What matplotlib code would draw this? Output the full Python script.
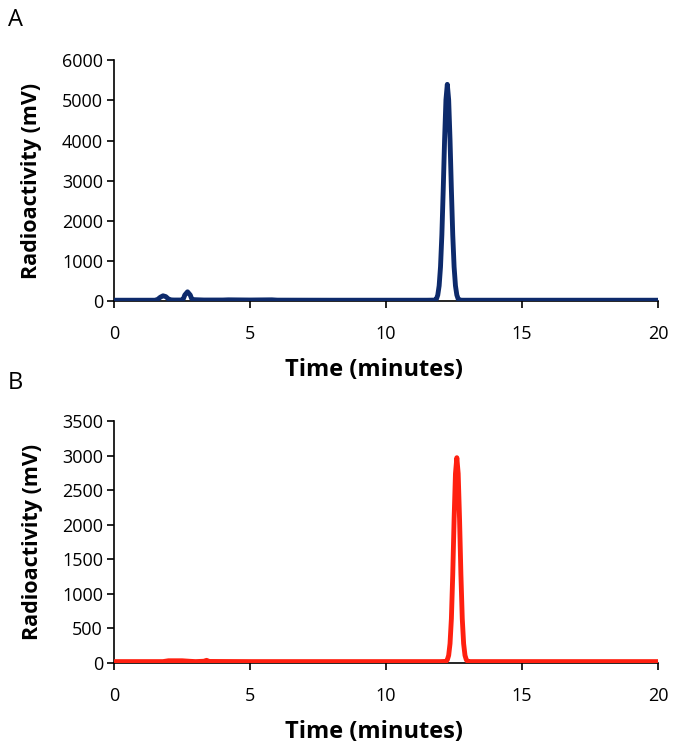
import numpy as np
import matplotlib.pyplot as plt

plt.rcParams['font.family'] = ['Open Sans', 'DejaVu Sans']

# panel A trace (time in minutes, radioactivity in mV)
time_a = [0.0, 1.5, 1.6, 1.7, 1.8, 1.9, 2.0, 2.1, 2.2, 2.5, 2.55, 2.6, 2.7, 2.8, 2.85, 2.9, 3.1, 3.3,
          4.0, 4.2, 4.5, 5.0, 5.8, 6.0, 8.0, 10.0, 11.5, 11.8, 11.85, 11.9, 11.95, 12.0,
          12.05, 12.1, 12.15, 12.2, 12.25, 12.3, 12.35, 12.4, 12.45, 12.5, 12.55, 12.6,
          12.65, 12.7, 12.75, 12.8, 13.0, 15.0, 20.0]
rad_a = [20, 20, 40, 95, 130, 110, 50, 28, 25, 25, 60, 150, 230, 150, 60, 35, 30, 25,
         25, 30, 28, 25, 30, 22, 20, 20, 20, 23, 50, 150, 380, 850,
         1650, 2775, 4017, 5015, 5400, 5015, 4017, 2775, 1650, 850, 380, 150,
         50, 28, 22, 20, 20, 20, 20]

# panel B trace
time_b = [0.0, 1.8, 2.0, 2.5, 2.8, 3.0, 3.3, 3.4, 3.5, 5.0, 8.0, 10.0, 12.0, 12.2,
          12.25, 12.3, 12.35, 12.4, 12.45, 12.5, 12.55, 12.6, 12.65, 12.7, 12.75,
          12.8, 12.85, 12.9, 12.95, 13.0, 13.1, 15.0, 20.0]
rad_b = [20, 20, 32, 32, 24, 20, 25, 38, 22, 20, 20, 20, 20, 23,
         45, 110, 280, 640, 1280, 2080, 2740, 2970, 2740, 2080, 1280,
         640, 280, 110, 45, 23, 20, 20, 20]

fig = plt.figure(figsize=(6.75, 7.44), dpi=100)
ax_a = fig.add_axes([0.169, 0.5954, 0.806, 0.3236])
ax_b = fig.add_axes([0.169, 0.1089, 0.806, 0.3252])

for ax, t, r, col, ymax, step in [(ax_a, time_a, rad_a, '#0d2a6b', 6000, 1000),
                                  (ax_b, time_b, rad_b, '#ff2010', 3500, 500)]:
    ax.plot(t, r, color=col, lw=3.5, solid_capstyle='butt', zorder=3)
    ax.set_xlim(0, 20)
    ax.set_ylim(0, ymax)
    ax.set_xticks([0, 5, 10, 15, 20])
    ax.set_yticks(np.arange(0, ymax + 1, step))
    ax.spines['top'].set_visible(False)
    ax.spines['right'].set_visible(False)
    ax.spines['left'].set_linewidth(1.2)
    ax.spines['bottom'].set_linewidth(1.2)
    ax.spines['bottom'].set_zorder(2)
    ax.tick_params(axis='both', direction='out', length=5, width=1.2, labelsize=13, pad=3)
    ax.tick_params(axis='x', pad=12)
    ax.set_xlabel('Time (minutes)', fontsize=17, fontweight='bold', labelpad=6)
    ax.set_ylabel('Radioactivity (mV)', fontsize=15.5, fontweight='bold', labelpad=14)
    ax.xaxis.set_label_coords(0.478, -0.235)

fig.text(0.012, 0.973, 'A', fontsize=17, va='center')
fig.text(0.012, 0.485, 'B', fontsize=17, va='center')

fig.savefig('out.png', dpi=100)
